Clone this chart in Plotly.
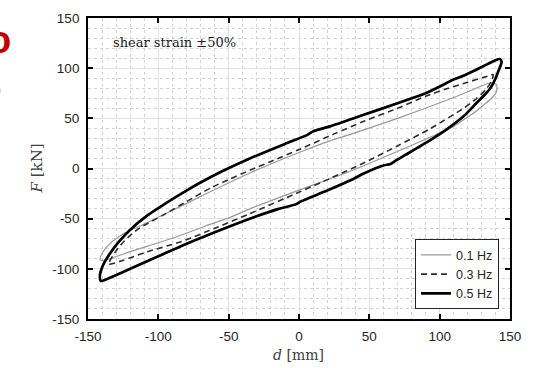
import plotly.graph_objects as go

# Hysteresis loops of the bearing at shear strain ±50 %
# Each loop: unloading branch (right tip -> left tip), then loading branch (left tip -> right tip)

# 0.1 Hz
d_01_upper = [140.5, 138, 135, 120, 105, 70, 36.5, 22, 1, -35, -65, -89, -108, -124.7, -132, -137.6, -140.5, -141.3]
F_01_upper = [83.5, 85, 85, 76.5, 68, 50, 34, 27.5, 16.5, -4.5, -24.5, -41, -54, -65, -72, -79.6, -86, -91]
d_01_lower = [-139, -136.6, -120, -100, -84, -66, -48.8, -34.6, 1, 36, 70, 93, 110, 117, 124, 131, 137, 140.3, 140.7, 140.5]
F_01_lower = [-91.5, -91, -82.8, -74, -66.5, -57, -48.7, -40, -21, -3, 17, 31, 42, 48.5, 55, 63, 70, 76.3, 80, 83.5]

# 0.3 Hz
d_03_upper = [138, 134, 120, 105, 90, 70, 46, 25, 1, -20, -35, -50, -63, -80, -96, -114, -124, -131, -135.5]
F_03_upper = [93.5, 92, 86, 79.5, 72, 60, 47, 34.5, 19.5, 7, -1.8, -11, -19.5, -33, -46, -60, -72, -84, -95.7]
d_03_lower = [-133, -125, -108, -84, -58, -35, 1, 22, 46, 70, 93, 117, 126, 133, 137, 138]
F_03_lower = [-95, -91.5, -83, -73, -58.5, -45, -23, -10, 5.5, 22.5, 39.5, 60, 69.5, 79, 87.5, 93.5]

# 0.5 Hz
d_05_upper = [143, 139, 134, 126, 116, 108, 104, 90, 70, 46, 22, 10, 6, -10, -35, -55, -70, -80, -90, -100, -108, -120, -128, -135, -139.5, -141.5, -141]
F_05_upper = [109, 107.5, 104, 98.5, 92, 87.5, 84.5, 75, 65, 53.5, 42, 37, 33.5, 24.5, 10, -3, -14, -22, -30.5, -39.5, -47, -61, -73, -86, -97, -106, -112]
d_05_lower = [-138, -132, -120, -108, -96, -84, -66, -49, -35, -15, -2, 1, 20, 37, 46, 60, 65, 69, 75, 93, 105, 117, 126, 132, 136, 139.5, 142, 144, 143]
F_05_lower = [-111, -107.5, -100, -92.5, -85, -77.5, -67, -57.5, -50, -40.5, -35.5, -33, -22, -11.5, -5, 3, 4.5, 8, 13, 28, 39, 52, 65, 73.5, 80, 89, 98, 106, 109]

tick_vals = [-150, -100, -50, 0, 50, 100, 150]
tick_text = ["-150", "-100", "-50", "0", "50", "100", "150"]

series = [
    ("0.1 Hz", d_01_upper + d_01_lower, F_01_upper + F_01_lower, dict(color="#9a9a9a", width=1.2)),
    ("0.3 Hz", d_03_upper + d_03_lower, F_03_upper + F_03_lower, dict(color="#2e2e2e", width=1.6, dash="6px,4px")),
    ("0.5 Hz", d_05_upper + d_05_lower, F_05_upper + F_05_lower, dict(color="#000000", width=2.7)),
]

fig = go.Figure()
for name, d, F, line in series:
    fig.add_trace(go.Scatter(x=d, y=F, mode="lines", name=name,
                             line=dict(shape="spline", smoothing=0.7, **line)))

axis_common = dict(
    range=[-150, 150], tickvals=tick_vals, ticktext=tick_text,
    ticks="inside", ticklen=5, tickwidth=1.5, tickcolor="#000000",
    showline=True, linecolor="#000000", linewidth=1.8, mirror="ticks",
    showgrid=True, gridcolor="#e2e2e2", gridwidth=1,
    zeroline=False,
    tickfont=dict(family="Liberation Sans, Arial", size=13.5, color="#262626"),
    minor=dict(dtick=10, showgrid=True, gridcolor="#d2d2d2", griddash="dot", gridwidth=1, ticks=""),
)

fig.update_xaxes(**axis_common, ticklabelstandoff=4)
fig.update_yaxes(**axis_common, ticklabelstandoff=4)

serif = "DejaVu Serif, Liberation Serif, serif"
fig.update_layout(
    width=534, height=368,
    margin=dict(l=88, r=24, t=11, b=49),
    paper_bgcolor="#ffffff", plot_bgcolor="#ffffff",
    showlegend=True,
    legend=dict(
        x=0.974, y=0.0325, xanchor="right", yanchor="bottom",
        bgcolor="#ffffff", bordercolor="#262626", borderwidth=1,
        font=dict(family="Liberation Sans, Arial", size=12.5, color="#262626"),
        tracegroupgap=0, itemwidth=30,
    ),
    annotations=[
        dict(text="shear strain ±50%", xref="paper", yref="paper", x=0.0545, y=0.919,
             xanchor="left", yanchor="middle", showarrow=False,
             font=dict(family=serif, size=13, color="#1a1a1a")),
        dict(text="<i>F</i> [kN]", xref="paper", yref="paper", x=-0.121, y=0.5,
             xanchor="center", yanchor="middle", textangle=-90, showarrow=False,
             font=dict(family=serif, size=15, color="#404040")),
        dict(text="<i>d</i> [mm]", xref="paper", yref="paper", x=0.498, y=-0.12,
             xanchor="center", yanchor="middle", showarrow=False,
             font=dict(family=serif, size=14, color="#404040")),
        dict(text="<b>o</b>", xref="paper", yref="paper", x=(-0.5 - 88) / 422, y=(319 - 34) / 308,
             xanchor="center", yanchor="middle", showarrow=False,
             font=dict(family="Liberation Sans, Arial", size=38, color="#c00000")),
        dict(text="o", xref="paper", yref="paper", x=(-5 - 88) / 422, y=(319 - 84) / 308,
             xanchor="center", yanchor="middle", showarrow=False,
             font=dict(family="Liberation Sans, Arial", size=20, color="#b894e0")),
    ],
)

fig.write_html("out.html")
